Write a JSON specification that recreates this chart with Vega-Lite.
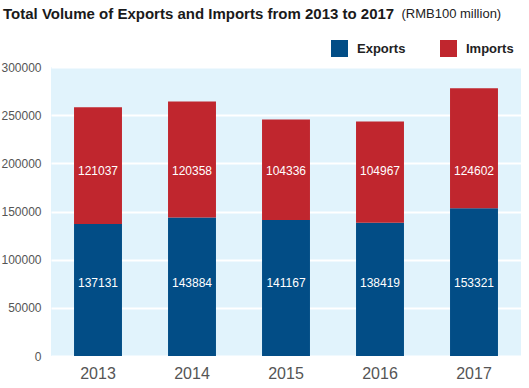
{
  "$schema": "https://vega.github.io/schema/vega-lite/v6.json",
  "autosize": "none",
  "width": 470,
  "height": 289,
  "padding": {"left": 51, "top": 67, "right": 8, "bottom": 32},
  "background": "white",
  "title": {
    "text": "Total Volume of Exports and Imports from 2013 to 2017",
    "anchor": "start",
    "frame": "group",
    "font": "Liberation Sans",
    "fontSize": 15,
    "fontWeight": "bold",
    "color": "#1a1a1a",
    "dx": -48,
    "dy": 15,
    "offset": 0
  },
  "data": {
    "values": [
      {"year": "2013", "type": "Exports", "value": 137131},
      {"year": "2013", "type": "Imports", "value": 121037},
      {"year": "2014", "type": "Exports", "value": 143884},
      {"year": "2014", "type": "Imports", "value": 120358},
      {"year": "2015", "type": "Exports", "value": 141167},
      {"year": "2015", "type": "Imports", "value": 104336},
      {"year": "2016", "type": "Exports", "value": 138419},
      {"year": "2016", "type": "Imports", "value": 104967},
      {"year": "2017", "type": "Exports", "value": 153321},
      {"year": "2017", "type": "Imports", "value": 124602}
    ]
  },
  "encoding": {
    "x": {
      "field": "year",
      "type": "nominal",
      "scale": {"paddingInner": 0.49, "paddingOuter": 0.245},
      "axis": {
        "title": null,
        "labelAngle": 0,
        "labelFont": "Liberation Sans",
        "labelFontSize": 16,
        "labelColor": "#555555",
        "labelPadding": 9,
        "ticks": false,
        "tickSize": 0,
        "domain": false,
        "grid": false
      }
    }
  },
  "layer": [
    {
      "mark": {"type": "bar"},
      "encoding": {
        "y": {
          "field": "value",
          "type": "quantitative",
          "stack": "zero",
          "scale": {"domain": [0, 300000], "nice": false},
          "axis": {
            "title": "(RMB100 million)",
            "titleAngle": 0,
            "titleAlign": "left",
            "titleBaseline": "alphabetic",
            "titleX": 350,
            "titleY": -50,
            "titleFont": "Liberation Sans",
            "titleFontSize": 13,
            "titleFontWeight": "normal",
            "titleColor": "#222222",
            "values": [0, 50000, 100000, 150000, 200000, 250000, 300000],
            "format": "d",
            "labelFont": "Liberation Sans",
            "labelFontSize": 12,
            "labelColor": "#555555",
            "labelPadding": 10,
            "ticks": false,
            "tickSize": 0,
            "domain": false,
            "grid": true,
            "gridColor": "#ffffff",
            "gridWidth": 2,
            "gridOpacity": 1
          }
        },
        "color": {
          "field": "type",
          "type": "nominal",
          "scale": {"domain": ["Exports", "Imports"], "range": ["#024d86", "#c0262e"]},
          "legend": {
            "title": null,
            "orient": "none",
            "direction": "horizontal",
            "legendX": 280,
            "legendY": -27,
            "padding": 0,
            "symbolType": "square",
            "symbolSize": 289,
            "symbolStrokeWidth": 0,
            "symbolOpacity": 1,
            "labelFont": "Liberation Sans",
            "labelFontSize": 13,
            "labelFontWeight": "bold",
            "labelColor": "#222222",
            "labelOffset": 9,
            "columnPadding": 34
          }
        },
        "order": {"field": "type", "sort": "ascending"}
      }
    },
    {
      "transform": [{"filter": "datum.type === 'Exports'"}],
      "mark": {
        "type": "text",
        "color": "white",
        "font": "Liberation Sans",
        "fontSize": 12,
        "baseline": "middle"
      },
      "encoding": {
        "y": {"datum": 76000, "type": "quantitative"},
        "text": {"field": "value", "type": "quantitative", "format": "d"}
      }
    },
    {
      "transform": [{"filter": "datum.type === 'Imports'"}],
      "mark": {
        "type": "text",
        "color": "white",
        "font": "Liberation Sans",
        "fontSize": 12,
        "baseline": "middle"
      },
      "encoding": {
        "y": {"datum": 192000, "type": "quantitative"},
        "text": {"field": "value", "type": "quantitative", "format": "d"}
      }
    }
  ],
  "config": {
    "view": {"fill": "#e1f3fc", "stroke": null}
  }
}
